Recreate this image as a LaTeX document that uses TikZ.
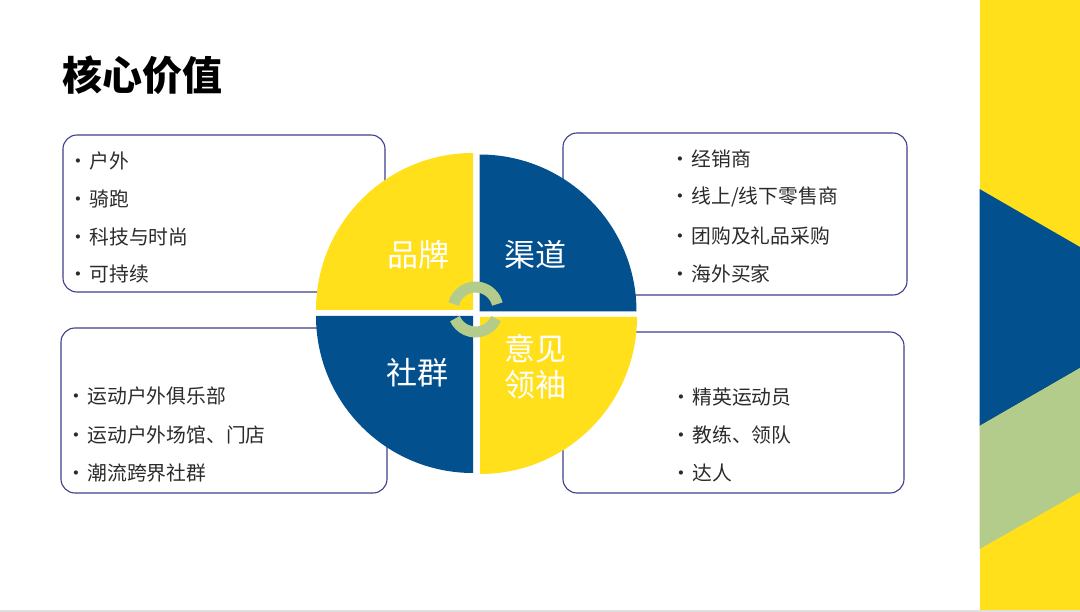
\documentclass[tikz,border=0pt]{standalone}
\usepackage{fontspec}
\setmainfont{Noto Sans CJK SC}
\definecolor{brandyellow}{HTML}{FFE01B}
\definecolor{brandblue}{HTML}{03508F}
\definecolor{ringgreen}{HTML}{B4CC8B}
\definecolor{boxline}{HTML}{3E3E8C}
\definecolor{bodytext}{HTML}{2B2B2B}

\begin{document}
\begin{tikzpicture}[x=1pt, y=-1pt,
  itembox/.style={draw=boxline, line width=1.1pt, rounded corners=14pt},
  itemtext/.style={anchor=west, inner sep=0pt, text=bodytext,
    font=\fontsize{19.8}{19.8}\selectfont},
  quadtext/.style={text=white, inner sep=0pt, align=center,
    font=\fontsize{31}{36}\selectfont},
]
  \useasboundingbox (0,0) rectangle (1080,612);
  % 右侧色带
  \fill[brandyellow] (979.5,0) rectangle (1080,612);
  \fill[brandblue] (979.5,189) -- (1080,247) -- (1080,368) -- (979.5,426) -- cycle;
  \fill[ringgreen] (979.5,426) -- (1080,368) -- (1080,492) -- (979.5,549) -- cycle;
  \fill[black!12] (0,609.5) rectangle (1080,612);
  % 标题
  \node[anchor=west, inner sep=0pt, font=\fontsize{40}{40}\selectfont\bfseries] (title) at (62,75) {核心价值};
  % 四个文字框
  \draw[itembox] (63,135) rectangle (385,292);
  \draw[itembox] (563,133) rectangle (907,295);
  \draw[itembox] (61,328) rectangle (387,493);
  \draw[itembox] (563,332) rectangle (904,493);
  \foreach \t [count=\i] in {户外,骑跑,科技与时尚,可持续}
    \node[itemtext] (brand\i) at (68,{161+37.8*(\i-1)}) {\textbullet\hspace{1.5pt}\t};
  \foreach \t [count=\i] in {经销商,线上/线下零售商,团购及礼品采购,海外买家}
    \node[itemtext] (channel\i) at (670,{159+38.3*(\i-1)}) {\textbullet\hspace{1.5pt}\t};
  \foreach \t [count=\i] in {运动户外俱乐部,运动户外场馆、门店,潮流跨界社群}
    \node[itemtext] (club\i) at (66,{396+38.5*(\i-1)}) {\textbullet\hspace{1.5pt}\t};
  \foreach \t [count=\i] in {精英运动员,教练、领队,达人}
    \node[itemtext] (kol\i) at (671,{397+38*(\i-1)}) {\textbullet\hspace{1.5pt}\t};
  % 四分圆 (y 轴向下, 角度 270 = 上)
  \coordinate (TL) at (473,310);
  \coordinate (TR) at (479.5,311.5);
  \coordinate (BL) at (473,316);
  \coordinate (BR) at (480,317);
  \fill[brandyellow] (TL) -- ++(-157,0) arc[start angle=180, end angle=270, radius=157] -- cycle;
  \fill[brandblue] (TR) -- ++(0,-157) arc[start angle=270, end angle=360, radius=157] -- cycle;
  \fill[brandblue] (BL) -- ++(0,157) arc[start angle=90, end angle=180, radius=157] -- cycle;
  \fill[brandyellow] (BR) -- ++(157,0) arc[start angle=0, end angle=90, radius=157] -- cycle;
  % 中心绿色圆环
  \coordinate (O) at (475.5,309.5);
  \draw[ringgreen, line width=11pt] (O) ++(194:22.5) arc[start angle=194, end angle=346, radius=22.5];
  \draw[ringgreen, line width=11pt] (O) ++(24:22.5) arc[start angle=24, end angle=156, radius=22.5];
  % 四分圆文字
  \node[quadtext] (brand) at (418,255) {品牌};
  \node[quadtext] (channel) at (535,255) {渠道};
  \node[quadtext] (club) at (417.5,372.5) {社群};
  \node[quadtext] (kol) at (535,367) {意见\\领袖};
\end{tikzpicture}
\end{document}
